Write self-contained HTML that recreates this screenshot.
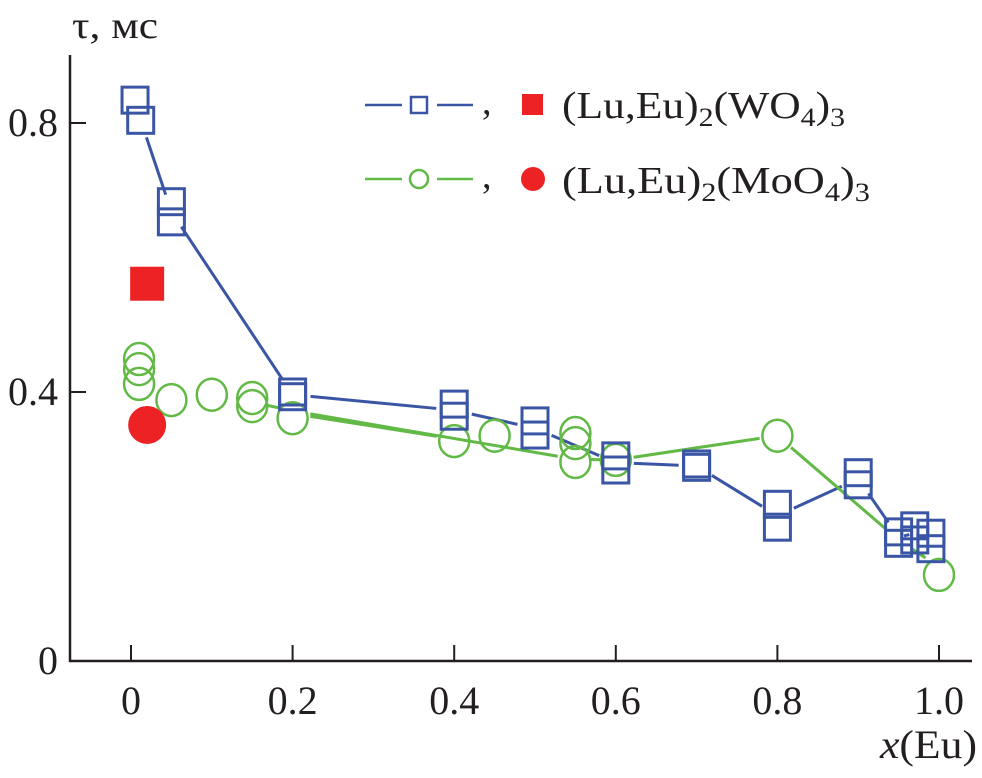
<!DOCTYPE html>
<html><head><meta charset="utf-8"><style>
body{margin:0;background:#fff}
svg text{font-family:"Liberation Serif",serif;fill:#231f20}
</style></head><body>
<svg id="chart" width="982" height="773" viewBox="0 0 982 773" xmlns="http://www.w3.org/2000/svg">
<g id="axes"></g>
<g id="lines"></g>
<g id="marks"></g>
<g>
 <line x1="365" y1="105" x2="402" y2="105" stroke="#3a55a4" stroke-width="2.5"/>
 <rect x="411" y="97" width="16" height="16" fill="none" stroke="#3a55a4" stroke-width="2.5"/>
 <line x1="437" y1="105" x2="473" y2="105" stroke="#3a55a4" stroke-width="2.5"/>
 <text x="482" y="114" font-size="38">,</text>
 <rect x="522" y="94" width="21" height="21" fill="#ed2224"/>
 <text x="562" y="118" font-size="38" textLength="283" lengthAdjust="spacingAndGlyphs">(Lu,Eu)<tspan font-size="26" dy="8">2</tspan><tspan dy="-8">(WO</tspan><tspan font-size="26" dy="8">4</tspan><tspan dy="-8">)</tspan><tspan font-size="26" dy="8">3</tspan></text>
 <line x1="365" y1="179" x2="402" y2="179" stroke="#62b946" stroke-width="2.5"/>
 <circle cx="419" cy="179" r="9" fill="none" stroke="#62b946" stroke-width="2.5"/>
 <line x1="437" y1="179" x2="473" y2="179" stroke="#62b946" stroke-width="2.5"/>
 <text x="482" y="188" font-size="38">,</text>
 <circle cx="533" cy="179" r="12" fill="#ed2224"/>
 <text x="562" y="193" font-size="38" textLength="308" lengthAdjust="spacingAndGlyphs">(Lu,Eu)<tspan font-size="26" dy="8">2</tspan><tspan dy="-8">(MoO</tspan><tspan font-size="26" dy="8">4</tspan><tspan dy="-8">)</tspan><tspan font-size="26" dy="8">3</tspan></text>
</g>
<text x="72" y="38" font-size="38" textLength="86" lengthAdjust="spacingAndGlyphs">τ, мс</text>
<text x="880" y="758" font-size="40" textLength="97" lengthAdjust="spacingAndGlyphs"><tspan font-style="italic">x</tspan>(Eu)</text>
</svg>
<script>
const xTicks=[0,0.2,0.4,0.6,0.8,1.0];
const xTickLabels=["0","0.2","0.4","0.6","0.8","1.0"];
const yTicks=[0,0.4,0.8];
const yTickLabels=["0","0.4","0.8"];
const sqX=[0.005,0.012,0.05,0.05,0.2,0.2,0.4,0.4,0.5,0.5,0.6,0.6,0.7,0.7,0.8,0.8,0.9,0.9,0.95,0.95,0.97,0.97,0.99,0.99];
const sqY=[0.834,0.804,0.683,0.653,0.40,0.393,0.382,0.364,0.357,0.336,0.305,0.284,0.293,0.288,0.233,0.199,0.280,0.262,0.192,0.175,0.201,0.180,0.190,0.167];
const ciX=[0.01,0.01,0.01,0.05,0.1,0.15,0.15,0.2,0.4,0.45,0.55,0.55,0.55,0.6,0.8,1.0];
const ciY=[0.449,0.434,0.412,0.388,0.396,0.391,0.379,0.361,0.327,0.335,0.339,0.324,0.296,0.299,0.335,0.128];
const blueLineX=[0.012,0.05,0.2,0.4,0.5,0.6,0.7,0.8,0.9,0.95,0.97,0.99];
const blueLineY=[0.804,0.668,0.396,0.373,0.346,0.295,0.29,0.216,0.271,0.184,0.19,0.178];
const greenLineX=[0.15,0.2,0.55,0.6,0.8,0.95,1.0];
const greenLineY=[0.385,0.372,0.300,0.299,0.335,0.18,0.14];
const green2X=[0.2,0.4];
const green2Y=[0.368,0.33];
const redSqX=[0.02], redSqY=[0.561];
const redCiX=[0.02], redCiY=[0.351];
const X=v=>131+v*808, Y=v=>661-v*672.5;
const NS="http://www.w3.org/2000/svg";
function mk(p,t,a){const e=document.createElementNS(NS,t);for(const k in a)e.setAttribute(k,a[k]);p.appendChild(e);return e;}
const ax=document.getElementById('axes');
let e=mk(ax,'line',{x1:70,y1:55,x2:70,y2:662,stroke:'#231f20','stroke-width':2.5});


e=mk(ax,'line',{x1:69,y1:661,x2:972,y2:661,stroke:'#231f20','stroke-width':2.5});


xTicks.forEach((v,i)=>{mk(ax,'line',{x1:X(v),y1:661,x2:X(v),y2:645,stroke:'#231f20','stroke-width':2});
 const t=mk(ax,'text',{x:X(v),y:714,'font-size':40,'text-anchor':'middle'});t.textContent=xTickLabels[i];
 
 });
yTicks.forEach((v,i)=>{mk(ax,'line',{x1:70,y1:Y(v),x2:86,y2:Y(v),stroke:'#231f20','stroke-width':2});
 const t=mk(ax,'text',{x:58,y:Y(v)+13,'font-size':40,'text-anchor':'end'});t.textContent=yTickLabels[i];
 
 });
const lg=document.getElementById('lines');
function seg(xs,ys,col,name){for(let i=0;i<xs.length-1;i++){let x1=X(xs[i]),y1=Y(ys[i]),x2=X(xs[i+1]),y2=Y(ys[i+1]);
 const dx=x2-x1,dy=y2-y1,L=Math.hypot(dx,dy),g=Math.min(18,L/3);const ux=dx/L,uy=dy/L;
 const l=mk(lg,'line',{x1:x1+ux*g,y1:y1+uy*g,x2:x2-ux*g,y2:y2-uy*g,stroke:col,'stroke-width':3});
 
 }}
seg(blueLineX,blueLineY,'#3a55a4','wo4-line');
seg(greenLineX,greenLineY,'#62b946','moo4-line');
seg(green2X,green2Y,'#62b946','moo4-line-2');
const mg=document.getElementById('marks');
ciX.forEach((v,i)=>{const c=mk(mg,'ellipse',{cx:X(v),cy:Y(ciY[i]),rx:15,ry:16,fill:'none',stroke:'#62b946','stroke-width':2.5});
 
 });
sqX.forEach((v,i)=>{const r=mk(mg,'rect',{x:X(v)-13,y:Y(sqY[i])-13,width:26,height:26,fill:'none',stroke:'#3a55a4','stroke-width':3});
 
 });
redSqX.forEach((v,i)=>{const r=mk(mg,'rect',{x:X(v)-17,y:Y(redSqY[i])-17,width:34,height:34,fill:'#ed2224'});
 
 });
redCiX.forEach((v,i)=>{const c=mk(mg,'circle',{cx:X(v),cy:Y(redCiY[i]),r:19,fill:'#ed2224'});
 
 });
</script>
</body></html>
